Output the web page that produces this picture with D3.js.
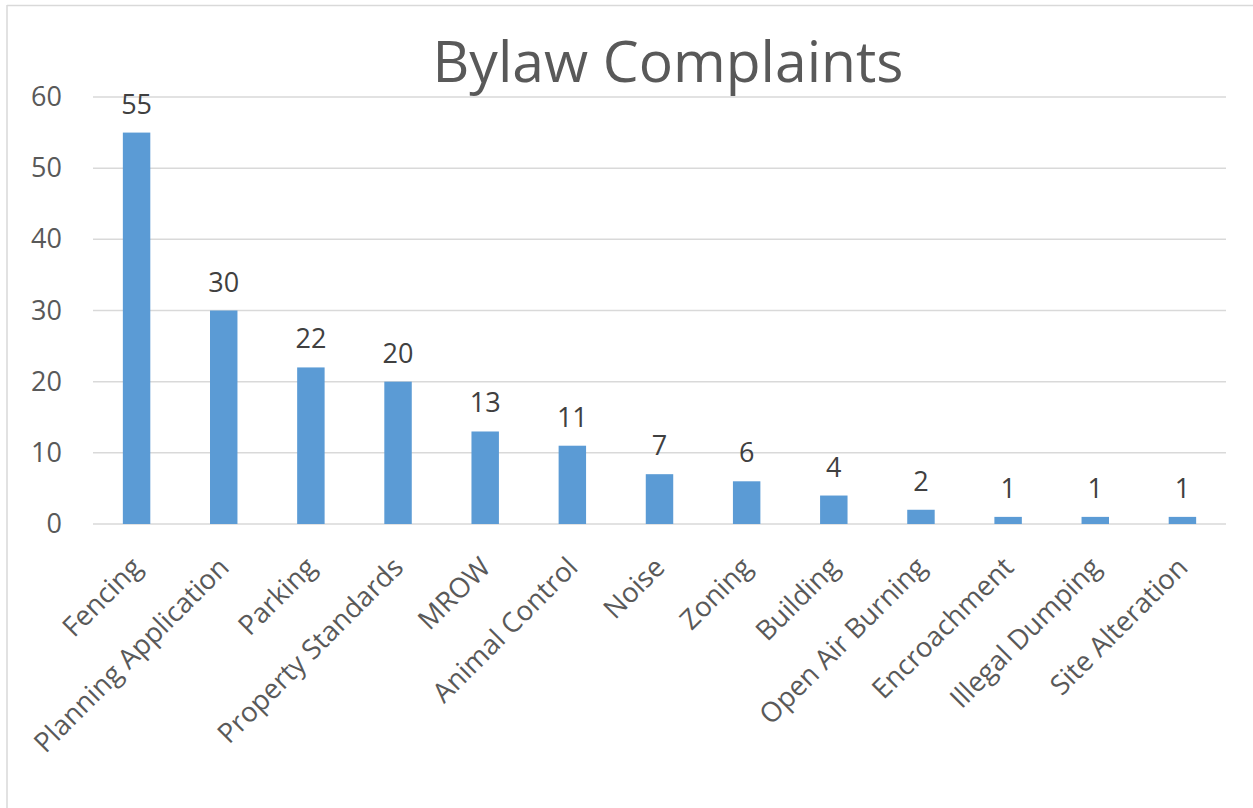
<!DOCTYPE html>
<html>
<head>
<meta charset="utf-8">
<script src="https://cdn.jsdelivr.net/npm/d3@7"></script>
<style>
  body { margin: 0; background: #fff; }
  svg text { font-family: "Open Sans", sans-serif; }
</style>
</head>
<body>
<div id="chart"></div>
<script>
// chart data
const categories = ['Fencing', 'Planning Application', 'Parking', 'Property Standards', 'MROW',
    'Animal Control', 'Noise', 'Zoning', 'Building', 'Open Air Burning', 'Encroachment',
    'Illegal Dumping', 'Site Alteration'];
const complaints = [55, 30, 22, 20, 13, 11, 7, 6, 4, 2, 1, 1, 1];
const yTicks = [0, 10, 20, 30, 40, 50, 60];
const title = 'Bylaw Complaints';

function drawChart() {
    const width = 1253, height = 808;
    const svg = d3.select('#chart')
        .append('svg')
        .attr('width', width)
        .attr('height', height);

    // chart border (top and left only show in the picture)
    svg.append('line')
        .attr('x1', 7).attr('x2', width).attr('y1', 5.5).attr('y2', 5.5)
        .attr('stroke', '#d9d9d9').attr('stroke-width', 1.5);
    svg.append('line')
        .attr('x1', 7).attr('x2', 7).attr('y1', 5).attr('y2', height)
        .attr('stroke', '#d9d9d9').attr('stroke-width', 1.5);

    const x = d3.scaleBand()
        .domain(categories)
        .range([93, 1226])
        .paddingInner(0.685)
        .paddingOuter(0.3425);

    const y = d3.scaleLinear()
        .domain([0, 60])
        .range([524, 97]);

    // gridlines
    svg.append('g')
        .selectAll('line')
        .data(yTicks)
        .enter()
        .append('line')
        .attr('x1', 93).attr('x2', 1226)
        .attr('y1', d => y(d)).attr('y2', d => y(d))
        .attr('stroke', '#d9d9d9')
        .attr('stroke-width', 1.5);

    // y axis labels
    const yAxis = d3.axisLeft(y).tickValues(yTicks).tickSize(0).tickPadding(0);
    svg.append('g')
        .attr('transform', 'translate(62,0)')
        .call(yAxis)
        .call(g => g.select('.domain').remove())
        .selectAll('text')
        .attr('font-size', 27)
        .attr('font-family', '"Open Sans", sans-serif')
        .attr('fill', '#595959');

    // bars
    svg.append('g')
        .selectAll('rect')
        .data(complaints)
        .enter()
        .append('rect')
        .attr('x', (d, i) => x(categories[i]))
        .attr('y', d => y(d))
        .attr('width', x.bandwidth())
        .attr('height', d => y(0) - y(d))
        .attr('fill', '#5b9bd5');

    // value labels
    svg.append('g')
        .selectAll('text')
        .data(complaints)
        .enter()
        .append('text')
        .attr('x', (d, i) => x(categories[i]) + x.bandwidth() / 2)
        .attr('y', d => y(d) - 19)
        .attr('text-anchor', 'middle')
        .attr('font-size', 27)
        .attr('fill', '#404040')
        .text(d => d);

    // category labels, rotated
    const xAxis = d3.axisBottom(x).tickSize(0).tickPadding(0);
    svg.append('g')
        .attr('transform', 'translate(0,524)')
        .call(xAxis)
        .call(g => g.select('.domain').remove())
        .selectAll('text')
        .attr('font-size', 27.5)
        .attr('font-family', '"Open Sans", sans-serif')
        .attr('fill', '#595959')
        .attr('text-anchor', 'end')
        .attr('dy', 0)
        .attr('y', 0)
        .attr('transform', 'translate(7,45) rotate(-45)');

    // title, scaled to the width seen in the picture
    const t = svg.append('text')
        .attr('x', 668)
        .attr('y', 82)
        .attr('text-anchor', 'middle')
        .attr('font-size', 54)
        .attr('fill', '#595959')
        .text(title);
    const w = t.node().getComputedTextLength();
    t.attr('font-size', 54 * 471 / w);
}

document.addEventListener('DOMContentLoaded', drawChart);
</script>
</body>
</html>
